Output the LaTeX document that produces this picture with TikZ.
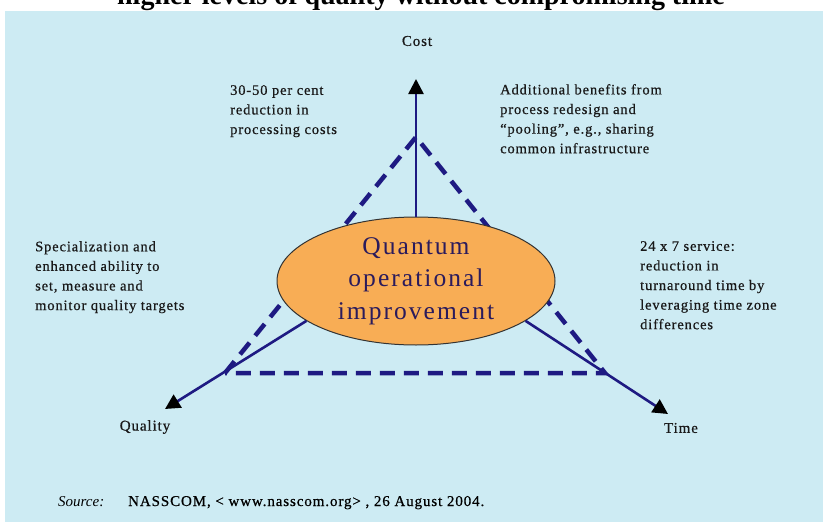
\documentclass[tikz,border=0pt]{standalone}
\usepackage{fontspec}
\setmainfont{Liberation Serif}
\newfontfamily\notefont[LetterSpace=6,FakeBold=0.6]{Liberation Serif}
\newfontfamily\blobfont[LetterSpace=8]{Liberation Serif}
\usetikzlibrary{arrows.meta,shapes.geometric}
\definecolor{panelblue}{HTML}{CDEBF3}
\definecolor{axisnavy}{HTML}{1E1A82}
\definecolor{blobfill}{HTML}{F8AD55}
\definecolor{blobtext}{HTML}{2B1B5C}

\begin{document}
\begin{tikzpicture}[
    x=1pt, y=-1pt,
    note/.style={align=left, anchor=north west, inner sep=0pt, text=black!90,
      font=\notefont\fontsize{14.5}{19.6}\selectfont},
    axislabel/.style={inner sep=0pt, text=black!90, font=\notefont\fontsize{15}{17}\selectfont},
    blob/.style={ellipse, draw=black!80, line width=1pt, fill=blobfill, inner sep=0pt,
      minimum width=278pt, minimum height=128pt, align=center, text=blobtext,
      font=\blobfont\fontsize{25.5}{32.5}\selectfont},
    axis/.style={draw=axisnavy, line width=2.6pt, -{Triangle[length=15pt, width=15pt, color=black]}},
    edge/.style={draw=axisnavy, line width=4.5pt, dash pattern=on 15pt off 9pt}
  ]
    \useasboundingbox (0,0) rectangle (823,522);
    \clip (0,0) rectangle (823,522);

    % title cut off at the top of the page
    \node[anchor=base, font=\bfseries\fontsize{28}{30}\selectfont] (title) at (421,5)
      {higher levels of quality without compromising time};
    \fill[panelblue] (5,11) rectangle (823,522);

    % corners of the triangle and ends of the axes
    \coordinate (apex) at (416,137);
    \coordinate (qcorner) at (225,373);
    \coordinate (tcorner) at (605,373);
    \coordinate (costtip) at (416,79);
    \coordinate (qualtip) at (165,409);
    \coordinate (timetip) at (668,414);

    \draw[edge] (qcorner) -- (apex) -- (tcorner) -- cycle;

    \node[blob] (quantum) at (416,281) {Quantum\\operational\\improvement};

    \draw[axis] (quantum.north) -- (costtip);
    \draw[axis] (quantum.200) -- (qualtip);
    \draw[axis] (quantum.340) -- (timetip);

    \node[axislabel] (cost) at (417,41) {Cost};
    \node[axislabel] (quality) at (145,427) {Quality};
    \node[axislabel] (time) at (681,428) {Time};

    \node[note] (costs) at (230,85) {30-50 per cent\\reduction in\\processing costs};
    \node[note] (benefits) at (500,84) {Additional benefits from\\process redesign and\\“pooling”, e.g., sharing\\common infrastructure};
    \node[note] (special) at (35,241) {Specialization and\\enhanced ability to\\set, measure and\\monitor quality targets};
    \node[note] (service) at (640,241) {24 x 7 service:\\reduction in\\turnaround time by\\leveraging time zone\\differences};

    \node[anchor=base west, inner sep=0pt, font=\itshape\fontsize{15}{17}\selectfont] (source) at (58,506) {Source:};
    \node[anchor=base west, inner sep=0pt, font=\notefont\fontsize{15}{17}\selectfont] (ref) at (128,506) {NASSCOM, < www.nasscom.org> , 26 August 2004.};
  \end{tikzpicture}
\end{document}
